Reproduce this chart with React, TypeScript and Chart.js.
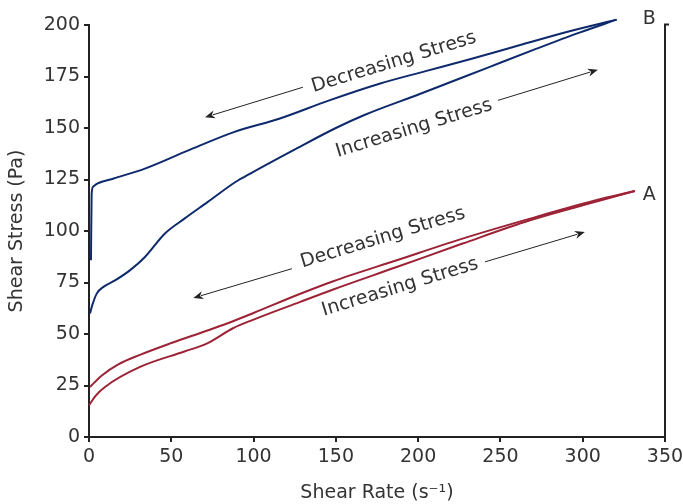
import { useEffect, useRef } from "react";
import { Chart, registerables } from "chart.js";

Chart.register(...registerables);

// Sample B (navy)
const bDecreasingX = [1.2, 1.6, 2.5, 5, 15, 34, 60, 88, 116, 146, 177, 204, 232, 262, 292, 320.6];
const bDecreasingY = [85.8, 118, 121.5, 123, 125.5, 130.3, 139, 148, 154.6, 163.4, 171.6, 177.5, 183.5, 190.3, 197, 202.6];
const bIncreasingX = [0.6, 2, 4.7, 9, 15.8, 25, 34, 46, 58, 72, 89, 98, 126, 150, 167, 201, 242, 272, 298, 320.6];
const bIncreasingY = [59.9, 64, 69.6, 73, 76, 81, 87.4, 98.7, 106, 114, 123.8, 127.9, 140, 150, 156.2, 166.5, 179.2, 188.5, 196.3, 202.6];

// Sample A (red)
const aDecreasingX = [0.6, 8, 17.8, 31, 50, 71.5, 87.5, 100, 128, 148, 187, 227, 268, 308, 331.7];
const aDecreasingY = [24.3, 30, 35.3, 39.9, 45.6, 51.6, 56.2, 60.2, 69.4, 75.5, 85.8, 96.3, 106, 114.9, 119.4];
const aIncreasingX = [0, 4, 9.7, 31, 58, 71.5, 87.5, 100, 128, 148, 187, 227, 268, 300, 331.7];
const aIncreasingY = [15.4, 20, 24.3, 34, 41.5, 45.3, 52.8, 57, 65.5, 71.5, 82.5, 93.9, 105.2, 112.5, 119.4];

const xTickValues = [0, 50, 100, 150, 200, 250, 300, 350];
const yTickValues = [0, 25, 50, 75, 100, 125, 150, 175, 200];

const xTitle = "Shear Rate (s\u207B\u00B9)";
const yTitle = "Shear Stress (Pa)";

// annotation labels: text, anchor (data coords)
const labelTexts = ["Decreasing Stress", "Increasing Stress", "Decreasing Stress", "Increasing Stress"];
const labelX = [185.3, 197.5, 178.6, 189];
const labelY = [181.9, 149.8, 96.7, 72.7];

// arrows: from -> to (data coords)
const arrowFromX = [130, 248.5, 123.3, 240.6];
const arrowFromY = [169.8, 163.4, 81.7, 85];
const arrowToX = [70.5, 309.2, 63.4, 301.3];
const arrowToY = [155.2, 178.3, 67.5, 99.5];

const seriesNames = ["B", "A"];
const seriesNameX = [336.5, 336.5];
const seriesNameY = [203, 117.3];

const NAVY = "#0e2a6c";
const RED = "#9c2335";
const AXIS = "#222222";
const TEXT = "#333333";
const FONT = "'DejaVu Sans', sans-serif";

const zip = (xs: number[], ys: number[]) => xs.map((x, i) => ({ x, y: ys[i] }));

const annotationPlugin = {
  id: "annotations",
  afterDatasetsDraw(chart: any) {
    const { ctx, chartArea, scales } = chart;
    const xs = scales.x;
    const ys = scales.y;
    ctx.save();
    // right border
    ctx.strokeStyle = AXIS;
    ctx.lineWidth = 2;
    ctx.beginPath();
    ctx.moveTo(chartArea.right, chartArea.top - 1);
    ctx.lineTo(chartArea.right, chartArea.bottom + 1);
    ctx.stroke();
    ctx.beginPath();
    ctx.moveTo(chartArea.right - 1, chartArea.top - 0.5);
    ctx.lineTo(chartArea.right + 4, chartArea.top - 0.5);
    ctx.stroke();

    // rotated labels
    const angle = (-17 * Math.PI) / 180;
    ctx.fillStyle = TEXT;
    ctx.font = `19px ${FONT}`;
    ctx.textAlign = "center";
    ctx.textBaseline = "middle";
    labelTexts.forEach((t, i) => {
      const px = xs.getPixelForValue(labelX[i]);
      const py = ys.getPixelForValue(labelY[i]);
      ctx.save();
      ctx.translate(px, py);
      ctx.rotate(angle);
      ctx.fillText(t, 0, 0);
      ctx.restore();
    });

    // arrows
    ctx.strokeStyle = AXIS;
    ctx.fillStyle = AXIS;
    ctx.lineWidth = 1;
    arrowFromX.forEach((_, i) => {
      const x1 = xs.getPixelForValue(arrowFromX[i]);
      const y1 = ys.getPixelForValue(arrowFromY[i]);
      const x2 = xs.getPixelForValue(arrowToX[i]);
      const y2 = ys.getPixelForValue(arrowToY[i]);
      const a = Math.atan2(y2 - y1, x2 - x1);
      const hl = 10;
      const hw = 4;
      ctx.beginPath();
      ctx.moveTo(x1, y1);
      ctx.lineTo(x2 - Math.cos(a) * hl * 0.8, y2 - Math.sin(a) * hl * 0.8);
      ctx.stroke();
      ctx.beginPath();
      ctx.moveTo(x2, y2);
      ctx.lineTo(x2 - Math.cos(a) * hl - Math.sin(a) * hw, y2 - Math.sin(a) * hl + Math.cos(a) * hw);
      ctx.lineTo(x2 - Math.cos(a) * hl * 0.7, y2 - Math.sin(a) * hl * 0.7);
      ctx.lineTo(x2 - Math.cos(a) * hl + Math.sin(a) * hw, y2 - Math.sin(a) * hl - Math.cos(a) * hw);
      ctx.closePath();
      ctx.fill();
    });

    // series names
    ctx.fillStyle = TEXT;
    ctx.font = `19px ${FONT}`;
    ctx.textAlign = "left";
    ctx.textBaseline = "middle";
    seriesNames.forEach((n, i) => {
      ctx.fillText(n, xs.getPixelForValue(seriesNameX[i]), ys.getPixelForValue(seriesNameY[i]));
    });
    ctx.restore();
  },
};

export default function App() {
  const ref = useRef<HTMLCanvasElement | null>(null);

  useEffect(() => {
    document.body.style.margin = "0";
    if (!ref.current) return;
    const lineDs = (label: string, data: any[], color: string) => ({
      label,
      data,
      borderColor: color,
      backgroundColor: color,
      borderWidth: 2,
      pointRadius: 0,
      fill: false,
      clip: false as const,
      cubicInterpolationMode: "monotone" as const,
    });
    const chart = new Chart(ref.current, {
      type: "line",
      data: {
        datasets: [
          lineDs("B decreasing", zip(bDecreasingX, bDecreasingY), NAVY),
          lineDs("B increasing", zip(bIncreasingX, bIncreasingY), NAVY),
          lineDs("A decreasing", zip(aDecreasingX, aDecreasingY), RED),
          lineDs("A increasing", zip(aIncreasingX, aIncreasingY), RED),
        ],
      },
      options: {
        animation: false,
        responsive: false,
        layout: { padding: { top: 25, right: 18, left: 0, bottom: 0 } },
        plugins: { legend: { display: false }, tooltip: { enabled: false } },
        scales: {
          x: {
            type: "linear",
            min: 0,
            max: 350,
            afterBuildTicks: (scale: any) => {
              scale.ticks = xTickValues.map((v) => ({ value: v }));
            },
            afterFit: (scale: any) => {
              scale.height = 67;
              scale.paddingLeft = 0;
              scale.paddingRight = 0;
            },
            ticks: { color: TEXT, font: { family: FONT, size: 19 }, padding: 4, maxRotation: 0, autoSkip: false },
            grid: { drawOnChartArea: false, drawTicks: true, tickLength: 5, color: AXIS, lineWidth: 2 },
            border: { color: AXIS, width: 2 },
            title: { display: true, text: xTitle, color: TEXT, font: { family: FONT, size: 19 }, padding: { top: 0, bottom: 0 } },
          },
          y: {
            type: "linear",
            min: 0,
            max: 200,
            afterBuildTicks: (scale: any) => {
              scale.ticks = yTickValues.map((v) => ({ value: v }));
            },
            afterFit: (scale: any) => {
              scale.width = 89;
              scale.paddingTop = 0;
              scale.paddingBottom = 0;
            },
            ticks: { color: TEXT, font: { family: FONT, size: 19 }, padding: 4, autoSkip: false },
            grid: { drawOnChartArea: false, drawTicks: true, tickLength: 5, color: AXIS, lineWidth: 2 },
            border: { color: AXIS, width: 2 },
            title: { display: true, text: yTitle, color: TEXT, font: { family: FONT, size: 19 }, padding: { top: 6, bottom: 0 } },
          },
        },
      },
      plugins: [annotationPlugin],
    });
    return () => chart.destroy();
  }, []);

  return (
    <div style={{ width: 683, height: 504 }}>
      <canvas ref={ref} width={683} height={504} />
    </div>
  );
}
